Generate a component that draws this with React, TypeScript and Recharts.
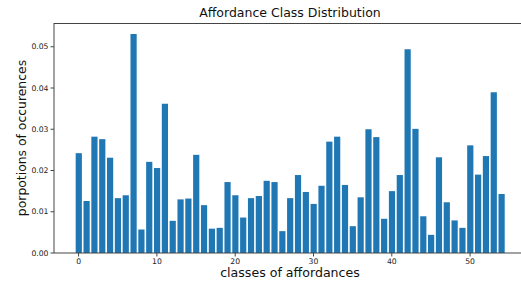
import React from "react";
import { BarChart, Bar, XAxis, YAxis, CartesianGrid } from "recharts";

const classes = Array.from({ length: 55 }, (_, i) => i);
const proportions = [
  0.0242, 0.0126, 0.0282, 0.0276, 0.0231, 0.0133, 0.014, 0.0531, 0.0057, 0.0221,
  0.0206, 0.0362, 0.0078, 0.013, 0.0132, 0.0238, 0.0116, 0.0059, 0.0061, 0.0172,
  0.014, 0.0086, 0.0133, 0.0138, 0.0175, 0.0172, 0.0053, 0.0133, 0.0189, 0.0148,
  0.0119, 0.0163, 0.027, 0.0282, 0.0165, 0.0065, 0.0135, 0.03, 0.0281, 0.0083,
  0.015, 0.0189, 0.0494, 0.0301, 0.0089, 0.0044, 0.0232, 0.0123, 0.0079, 0.0061,
  0.0261, 0.019, 0.0235, 0.039, 0.0143,
];
const xTicks = [0, 10, 20, 30, 40, 50];
const yTicks = [0, 0.01, 0.02, 0.03, 0.04, 0.05];
const yMax = 0.05576;

const data = classes.map((c, i) => ({ cls: c, value: proportions[i] }));

const font = "'DejaVu Sans', sans-serif";
const axisColor = "#444";
const tickStyle = { fill: "#222", fontSize: 7.7, fontFamily: font };

export default function App() {
  return (
    <div style={{ position: "absolute", left: 0, top: 0, width: 521, height: 283, overflow: "hidden", background: "#fff" }}>
      <BarChart width={540} height={283} data={data} margin={{ top: 23, right: 14, left: 0, bottom: 0 }}>
        <CartesianGrid vertical={false} horizontalPoints={[23.5]} stroke={axisColor} strokeDasharray="" />
        <XAxis
          dataKey="cls"
          type="number"
          domain={[-3.14, 57.14]}
          ticks={xTicks}
          allowDataOverflow
          stroke={axisColor}
          tickSize={3.5}
          tick={tickStyle}
          height={30}
        />
        <YAxis
          type="number"
          domain={[0, yMax]}
          ticks={yTicks}
          allowDataOverflow
          tickFormatter={(v: number) => v.toFixed(2)}
          stroke={axisColor}
          tickSize={3.5}
          tick={tickStyle}
          width={54}
        />
        <Bar dataKey="value" fill="#1f77b4" barSize={6.2} isAnimationActive={false} />
      </BarChart>
      {/* top spine of the axes frame */}
      <svg width={521} height={283} style={{ position: "absolute", left: 0, top: 0, zIndex: 5, pointerEvents: "none" }}>
        <line x1={54} y1={23.5} x2={521} y2={23.5} stroke={axisColor} strokeWidth={1} />
      </svg>
      <div style={{ position: "absolute", left: 54, width: 472, top: 5, textAlign: "center", fontFamily: font, fontSize: 12.5, color: "#111" }}>
        Affordance Class Distribution
      </div>
      <div style={{ position: "absolute", left: 54, width: 472, top: 265, textAlign: "center", fontFamily: font, fontSize: 12.6, color: "#111" }}>
        classes of affordances
      </div>
      <div style={{
        position: "absolute", left: 21, top: 138, width: 200, marginLeft: -100, textAlign: "center",
        transform: "translateY(-50%) rotate(-90deg)", fontFamily: font, fontSize: 12.4, color: "#111",
      }}>
        porpotions of occurences
      </div>
    </div>
  );
}
